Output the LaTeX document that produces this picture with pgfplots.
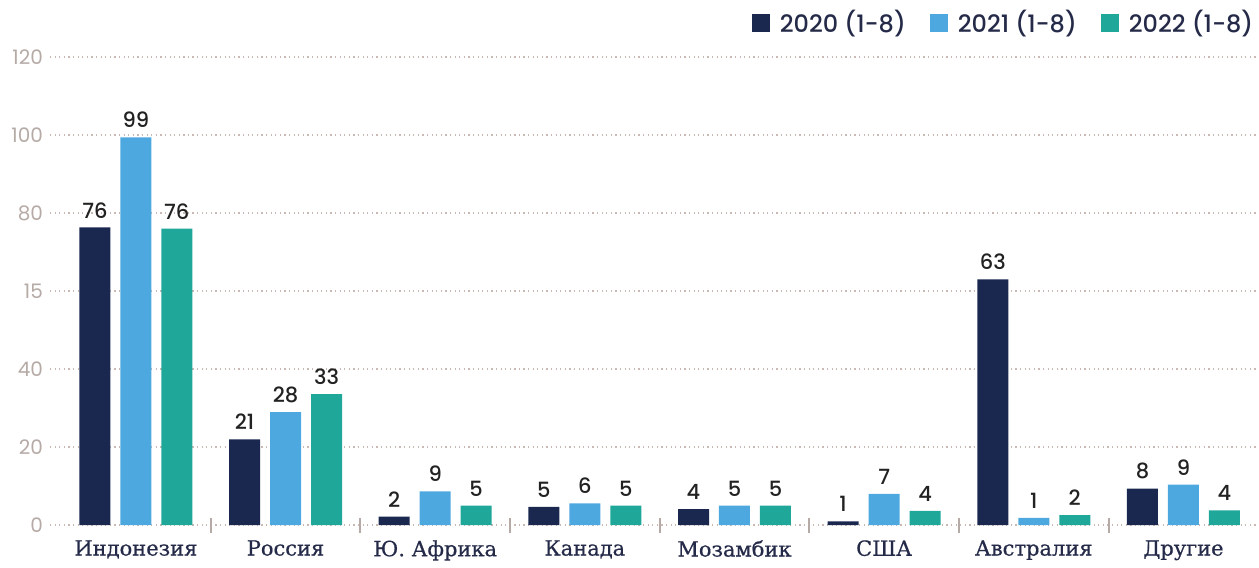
\documentclass[border=0pt]{standalone}
\usepackage{pgfplots}
\pgfplotsset{compat=1.18}
\usepackage{pgfplotstable}
\usepackage{fontspec}
\setmainfont{DejaVu Serif}
\newfontfamily\catfont[FakeBold=0.6]{DejaVu Serif}
\newfontfamily\numfont{Poppins}
\newfontfamily\numfontm{Poppins Medium}
\definecolor{cnavy}{RGB}{26,40,80}
\definecolor{cblue}{RGB}{78,168,224}
\definecolor{cteal}{RGB}{31,168,154}
\definecolor{cgrid}{RGB}{200,185,178}
\definecolor{ctick}{RGB}{181,170,166}
\definecolor{clab}{RGB}{36,42,72}
\definecolor{cval}{RGB}{34,34,34}
\pgfplotstableread{
x a la b lb c lc
0 76.3 76 99.4 99 76.0 76
1 22.0 21 29.0 28 33.6 33
2 2.2 2 8.7 9 5.0 5
3 4.7 5 5.6 6 5.0 5
4 4.1 4 5.0 5 5.0 5
5 1.0 1 8.0 7 3.7 4
6 63.0 63 1.9 1 2.6 2
7 9.4 8 10.4 9 3.8 4
}\tdata
\begin{document}
\begin{tikzpicture}
\begin{axis}[
  width=604.5pt, height=234.25pt, scale only axis,
  xmin=-0.574, xmax=7.5, ymin=0, ymax=120,
  ybar legend/.style={legend image code/.code={\fill[##1] (0pt,-4.5pt) rectangle (9pt,4.5pt);}},
  ybar=5pt, bar width=15.5pt,
  ytick={0,20,40,60,80,100,120},
  yticklabels={0,20,40,15,80,100,120},
  /pgf/number format/assume math mode=true,
  yticklabel style={font=\numfont\fontsize{10}{11}\selectfont, text=ctick},
  ymajorgrids,
  grid style={cgrid, line width=0.75pt, dash pattern=on 0.6pt off 1.7pt},
  axis line style={draw=none},
  tick pos=left,
  major tick length=0pt,
  tick style={ctick, line width=0.9pt},
  xtick={0,1,2,3,4,5,6,7},
  xticklabels={Индонезия, Россия, Ю. Африка, Канада, Мозамбик, США, Австралия, Другие},
  xticklabel style={font=\catfont\fontsize{10.5}{12}\selectfont, text=clab, yshift=-4pt},
  extra x ticks={0.5,1.5,2.5,3.5,4.5,5.5,6.5},
  extra x tick labels={},
  extra x tick style={major tick length=7.5pt, tick align=center, grid=none},
  point meta=explicit symbolic,
  nodes near coords,
  nodes near coords style={font=\numfontm\fontsize{10.5}{12}\selectfont, text=cval, anchor=south, inner sep=2.5pt, yshift=2pt},
  legend columns=3,
  legend style={at={(axis description cs:0.9995,1.0736)}, anchor=east, draw=none, fill=none,
    font=\numfontm\fontsize{12}{14}\selectfont, text=clab, inner sep=0pt,
    /tikz/every odd column/.append style={column sep=3pt},
    /tikz/every even column/.append style={column sep=10pt}},
  clip=false,
]
\addplot[fill=cnavy, draw=none] table[x=x, y=a, meta=la] {\tdata};
\addplot[fill=cblue, draw=none] table[x=x, y=b, meta=lb] {\tdata};
\addplot[fill=cteal, draw=none] table[x=x, y=c, meta=lc] {\tdata};
\legend{2020 (1-8), 2021 (1-8), 2022 (1-8)}
\path (axis description cs:-0.04136,-0.0822) rectangle (axis description cs:1,1.1217);
\end{axis}
\end{tikzpicture}
\end{document}
